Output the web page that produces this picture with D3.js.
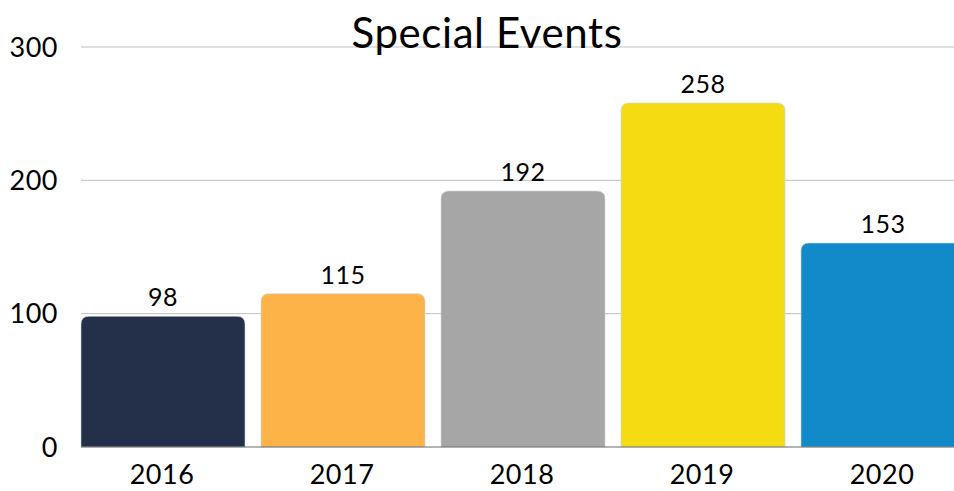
<!DOCTYPE html>
<html>
<head>
<meta charset="utf-8">
<script src="https://cdn.jsdelivr.net/npm/d3@7"></script>
<style>
  html, body { margin: 0; padding: 0; background: #fff; overflow: hidden; }
  svg { display: block; font-family: "Lato", "Noto Sans", sans-serif; }
</style>
</head>
<body>
<svg id="chart" width="954" height="491"></svg>
<script>
// Special Events per year
const years = ['2016', '2017', '2018', '2019', '2020'];
const events = [98, 115, 192, 258, 153];
const barColors = ['#243049', '#fdb347', '#a6a6a6', '#f5dc12', '#1289c8'];
const yTicks = [0, 100, 200, 300];

const W = 954, H = 491;
const svg = d3.select('#chart');

const x = d3.scaleBand()
  .domain(years)
  .range([73, 973])
  .paddingInner(16 / 180)
  .paddingOuter(8 / 180);

const y = d3.scaleLinear().domain([0, 300]).range([447, 47]);

// gridlines
svg.append('g')
  .selectAll('line')
  .data(yTicks.filter(t => t > 0))
  .join('line')
  .attr('x1', 81).attr('x2', W)
  .attr('y1', d => y(d)).attr('y2', d => y(d))
  .attr('stroke', '#bfbfbf')
  .attr('stroke-width', 1);

// y tick labels
svg.append('g')
  .selectAll('text')
  .data(yTicks)
  .join('text')
  .attr('x', 58)
  .attr('y', d => y(d))
  .attr('dy', '0.36em')
  .attr('text-anchor', 'end')
  .attr('font-size', 27)
  .attr('letter-spacing', 0.5)
  .attr('fill', '#000')
  .text(d => d);

// bars with rounded top corners
const r = 8;
function barPath(x0, w, yTop, yBase) {
  return `M${x0},${yBase}V${yTop + r}Q${x0},${yTop} ${x0 + r},${yTop}` +
         `H${x0 + w - r}Q${x0 + w},${yTop} ${x0 + w},${yTop + r}V${yBase}Z`;
}

svg.append('g')
  .selectAll('path')
  .data(years)
  .join('path')
  .attr('d', (d, i) => barPath(x(d), x.bandwidth(), y(events[i]), y(0)))
  .attr('fill', (d, i) => barColors[i])
  .attr('stroke', '#c9d6dc')
  .attr('stroke-width', 0.6);

// baseline
svg.append('line')
  .attr('x1', 81).attr('x2', W)
  .attr('y1', y(0)).attr('y2', y(0))
  .attr('stroke', '#6b6b6b')
  .attr('stroke-width', 1.2);

// value labels
svg.append('g')
  .selectAll('text')
  .data(years)
  .join('text')
  .attr('x', d => x(d) + x.bandwidth() / 2)
  .attr('y', (d, i) => y(events[i]) - 10)
  .attr('text-anchor', 'middle')
  .attr('font-size', 25)
  .attr('letter-spacing', 0.5)
  .attr('fill', '#000')
  .text((d, i) => events[i]);

// x labels
svg.append('g')
  .selectAll('text')
  .data(years)
  .join('text')
  .attr('x', d => x(d) + x.bandwidth() / 2 - 1)
  .attr('y', 484)
  .attr('text-anchor', 'middle')
  .attr('font-size', 27)
  .attr('letter-spacing', 0.5)
  .attr('fill', '#000')
  .text(d => d);

// title
svg.append('text')
  .attr('x', 487)
  .attr('y', 48)
  .attr('text-anchor', 'middle')
  .attr('font-size', 42)
  .attr('letter-spacing', 0.6)
  .attr('fill', '#000')
  .text('Special Events');
</script>
</body>
</html>
